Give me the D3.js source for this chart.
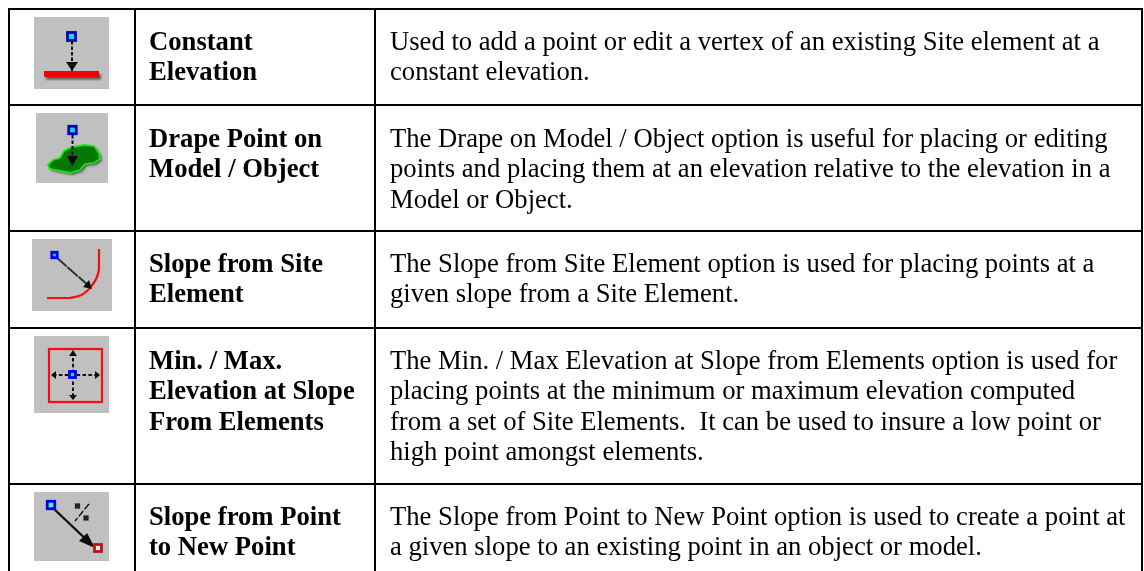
<!DOCTYPE html>
<html>
<head>
<meta charset="utf-8">
<script src="https://cdn.jsdelivr.net/npm/d3@7"></script>
<style>
	html, body { margin: 0; padding: 0; background: #fff; }
	svg { display: block; }
	text { font-family: "Liberation Serif", serif; font-size: 26.65px; fill: #000; }
	.name { font-weight: bold; }
</style>
</head>
<body>
<svg id="viz"></svg>
<script>
var names = [
	[ 'Constant', 'Elevation' ],
	[ 'Drape Point on', 'Model / Object' ],
	[ 'Slope from Site', 'Element' ],
	[ 'Min. / Max.', 'Elevation at Slope', 'From Elements' ],
	[ 'Slope from Point', 'to New Point' ]
];

var descriptions = [
	[ 'Used to add a point or edit a vertex of an existing Site element at a', 'constant elevation.' ],
	[ 'The Drape on Model / Object option is useful for placing or editing', 'points and placing them at an elevation relative to the elevation in a', 'Model or Object.' ],
	[ 'The Slope from Site Element option is used for placing points at a', 'given slope from a Site Element.' ],
	[ 'The Min. / Max Elevation at Slope from Elements option is used for', 'placing points at the minimum or maximum elevation computed', 'from a set of Site Elements.  It can be used to insure a low point or', 'high point amongst elements.' ],
	[ 'The Slope from Point to New Point option is used to create a point at', 'a given slope to an existing point in an object or model.' ]
];

var width = 1144;
var height = 571;

// table grid
var rowEdges = [ 9, 105, 231, 328, 484 ];
var baselines = [ 50, 147, 272, 369, 524.5 ];
var colEdges = [ 9, 135, 375, 1142 ];
var textX = [ 149, 390 ];
var lineHeight = 30.4;

var svg = d3.select( '#viz' ).attr( 'width', width ).attr( 'height', height );

var defs = svg.append( 'defs' );
defs.append( 'filter' ).attr( 'id', 'soft' )
	.attr( 'x', '-5%' ).attr( 'y', '-5%' ).attr( 'width', '110%' ).attr( 'height', '110%' )
	.append( 'feGaussianBlur' ).attr( 'stdDeviation', 0.35 );
defs.append( 'filter' ).attr( 'id', 'iconBlur' )
	.append( 'feGaussianBlur' ).attr( 'stdDeviation', 0.65 );
defs.append( 'filter' ).attr( 'id', 'shadowBlur' )
	.append( 'feGaussianBlur' ).attr( 'stdDeviation', 0.9 );

// rules
svg.selectAll( 'line.row' )
	.data( rowEdges )
	.enter()
	.append( 'line' )
	.classed( 'row', true )
	.attr( 'x1', colEdges[0] - 1 )
	.attr( 'x2', colEdges[3] + 1 )
	.attr( 'y1', function ( d ) { return d; } )
	.attr( 'y2', function ( d ) { return d; } )
	.attr( 'stroke', '#000' )
	.attr( 'stroke-width', 2 );

svg.selectAll( 'line.col' )
	.data( colEdges )
	.enter()
	.append( 'line' )
	.classed( 'col', true )
	.attr( 'x1', function ( d ) { return d; } )
	.attr( 'x2', function ( d ) { return d; } )
	.attr( 'y1', rowEdges[0] - 1 )
	.attr( 'y2', height )
	.attr( 'stroke', '#000' )
	.attr( 'stroke-width', 2 );

// cell text
var textLayer = svg.append( 'g' ).attr( 'filter', 'url(#soft)' );

var writeColumn = function ( rows, x, cls ) {
	rows.forEach( function ( lines, r ) {
		textLayer.selectAll( 'text.r' + r + cls )
			.data( lines )
			.enter()
			.append( 'text' )
			.attr( 'class', 'r' + r + cls + ' ' + cls )
			.attr( 'xml:space', 'preserve' )
			.style( 'white-space', 'pre' )
			.attr( 'x', x )
			.attr( 'y', function ( d, i ) { return baselines[r] + i * lineHeight; } )
			.text( function ( d ) { return d; } );
	} );
};

writeColumn( names, textX[0], 'name' );
writeColumn( descriptions, textX[1], 'desc' );

// icons
var iconBoxes = [
	{ x: 34, y: 17, w: 75, h: 72 },
	{ x: 36, y: 113, w: 72, h: 70 },
	{ x: 32, y: 239, w: 80, h: 72 },
	{ x: 34, y: 336, w: 75, h: 77 },
	{ x: 34, y: 492, w: 75, h: 69 }
];

svg.selectAll( 'rect.icon' )
	.data( iconBoxes )
	.enter()
	.append( 'rect' )
	.classed( 'icon', true )
	.attr( 'x', function ( d ) { return d.x; } )
	.attr( 'y', function ( d ) { return d.y; } )
	.attr( 'width', function ( d ) { return d.w; } )
	.attr( 'height', function ( d ) { return d.h; } )
	.attr( 'fill', '#c0c0c0' );

var glyphs = svg.append( 'g' ).attr( 'filter', 'url(#iconBlur)' );
var line = d3.line();

var node = function ( cx, cy, size, border, fill ) {
	glyphs.append( 'rect' )
		.attr( 'x', cx - size / 2 ).attr( 'y', cy - size / 2 )
		.attr( 'width', size ).attr( 'height', size )
		.attr( 'fill', fill )
		.attr( 'stroke', border )
		.attr( 'stroke-width', 2.8 );
};

var stem = function ( pts, dash, w, color ) {
	glyphs.append( 'path' )
		.attr( 'd', line( pts ) )
		.attr( 'fill', 'none' )
		.attr( 'stroke', color || '#111' )
		.attr( 'stroke-width', w || 2 )
		.attr( 'stroke-dasharray', dash || null );
};

var head = function ( pts ) {
	glyphs.append( 'path' )
		.attr( 'd', line( pts ) + 'Z' )
		.attr( 'fill', '#111' );
};

// constant elevation
glyphs.append( 'rect' ).attr( 'x', 46 ).attr( 'y', 74 ).attr( 'width', 55 ).attr( 'height', 5.5 )
	.attr( 'fill', '#555' ).attr( 'filter', 'url(#shadowBlur)' );
glyphs.append( 'rect' ).attr( 'x', 44 ).attr( 'y', 71 ).attr( 'width', 55 ).attr( 'height', 6 ).attr( 'fill', '#f00000' );
stem( [ [ 72, 41 ], [ 72, 71 ] ], '3.5,2' );
head( [ [ 66, 62 ], [ 78, 62 ], [ 72, 71 ] ] );
node( 71.5, 36.5, 8, '#0000b8', '#19d8ff' );

// drape on model
var blob = [ [ 48, 165 ], [ 53, 160 ], [ 60, 158 ], [ 64, 151 ], [ 72, 147 ], [ 85, 145 ], [ 94, 146 ], [ 99, 153 ], [ 100, 159 ], [ 94, 163 ], [ 85, 164 ], [ 80, 170 ], [ 70, 173 ], [ 60, 171 ], [ 50, 169 ] ];
var blobLine = d3.line().curve( d3.curveLinearClosed );
glyphs.append( 'path' ).attr( 'd', blobLine( blob.map( function ( p ) { return [ p[0] + 2, p[1] + 2 ]; } ) ) )
	.attr( 'fill', '#555' ).attr( 'filter', 'url(#shadowBlur)' );
glyphs.append( 'path' ).attr( 'd', blobLine( blob ) )
	.attr( 'fill', '#007800' ).attr( 'stroke', '#14e614' ).attr( 'stroke-width', 1.8 );
stem( [ [ 72.5, 135 ], [ 72.5, 165 ] ], '3.5,2' );
head( [ [ 67, 156 ], [ 78, 156 ], [ 72.5, 166 ] ] );
node( 72.5, 130, 7.5, '#0000b8', '#19d8ff' );

// slope from site element
glyphs.append( 'path' )
	.attr( 'd', d3.line().curve( d3.curveMonotoneY )( [ [ 99, 249 ], [ 99, 268 ], [ 97, 277 ], [ 93, 284 ], [ 87, 291 ], [ 79, 296 ], [ 70, 298 ] ] ) + 'L47,298' )
	.attr( 'fill', 'none' )
	.attr( 'stroke', '#f80808' )
	.attr( 'stroke-width', 2.2 );
stem( [ [ 56, 257 ], [ 90, 287 ] ], '14,1', 2, '#333' );
head( [ [ 92, 289 ], [ 83, 287 ], [ 89, 280 ] ] );
node( 54.5, 255, 5.5, '#0000f0', '#12c8ff' );

// min / max elevation
glyphs.append( 'rect' ).attr( 'x', 49 ).attr( 'y', 349 ).attr( 'width', 53 ).attr( 'height', 53 )
	.attr( 'fill', 'none' ).attr( 'stroke', '#f81010' ).attr( 'stroke-width', 2.2 );
stem( [ [ 73, 352 ], [ 73, 398 ] ], '3.5,2.4' );
stem( [ [ 53, 375 ], [ 98, 375 ] ], '3.5,2.4' );
head( [ [ 73, 350 ], [ 69, 356 ], [ 77, 356 ] ] );
head( [ [ 73, 400 ], [ 69, 395 ], [ 77, 395 ] ] );
head( [ [ 51, 375 ], [ 56, 371 ], [ 56, 379 ] ] );
head( [ [ 100, 375 ], [ 95, 371 ], [ 95, 379 ] ] );
node( 72.5, 374.5, 6, '#0000f0', '#14e0ff' );

// slope from point to new point
stem( [ [ 53, 508 ], [ 93, 546 ] ], null, 2.4 );
head( [ [ 95, 548 ], [ 79, 541 ], [ 87, 533 ] ] );
node( 51, 505, 7.5, '#0000d8', '#4ce8ff' );
node( 98, 548, 7, '#b81818', '#ececec' );
node( 77.5, 506, 2.4, '#222', '#bbb' );
node( 86, 518, 2.4, '#222', '#bbb' );
stem( [ [ 89, 504 ], [ 75, 521 ] ], '7,2', 1.4 );
</script>
</body>
</html>
